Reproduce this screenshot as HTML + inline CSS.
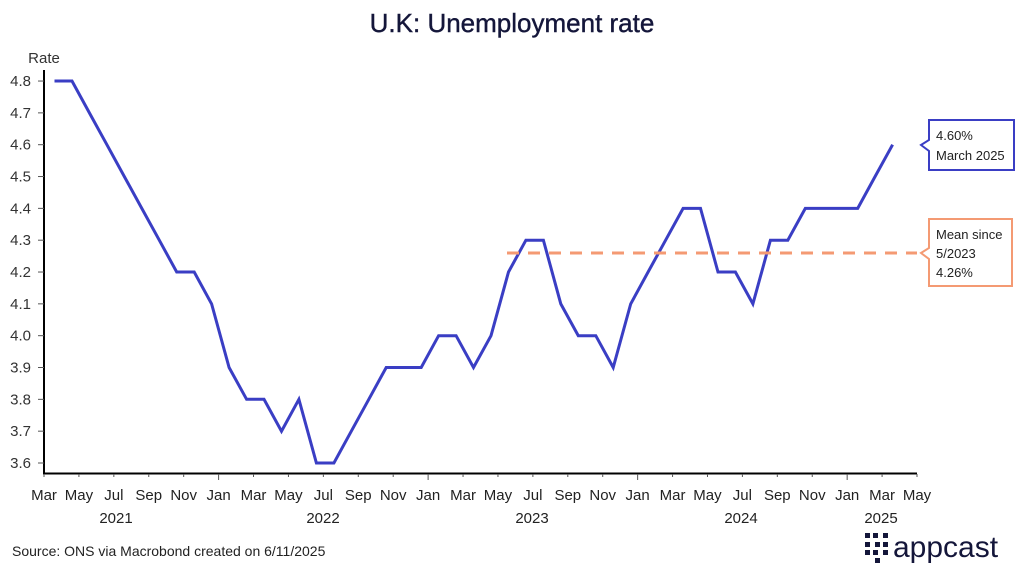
<!DOCTYPE html>
<html><head><meta charset="utf-8"><style>
html,body{margin:0;padding:0;background:#fff;}
svg{display:block;font-family:"Liberation Sans",sans-serif;}
</style></head><body>
<svg id="c" width="1024" height="574" viewBox="0 0 1024 574" xmlns="http://www.w3.org/2000/svg">
<text x="512" y="32" text-anchor="middle" font-size="26" fill="#14163a" stroke="#14163a" stroke-width="0.4">U.K: Unemployment rate</text>
<text x="44" y="63" text-anchor="middle" font-size="15" fill="#333">Rate</text>
<line x1="44" y1="70" x2="44" y2="474" stroke="#000" stroke-width="2"/>
<line x1="43" y1="473.5" x2="917" y2="473.5" stroke="#000" stroke-width="2"/>
<g id="g"></g>
<polyline points="507,253 917,253" fill="none" stroke="#f49a73" stroke-width="3" stroke-dasharray="12,9"/>
<path d="M929,120 H1014 V170 H929 V151 L921,145 L929,140 Z" fill="#fff" stroke="#3a3ec4" stroke-width="2"/>
<text x="936" y="140" font-size="13" fill="#222">4.60%</text>
<text x="936" y="160" font-size="13" fill="#222">March 2025</text>
<path d="M929,219 H1012 V286 H929 V259 L921,253 L929,248 Z" fill="#fff" stroke="#f49a73" stroke-width="2"/>
<text x="936" y="239" font-size="13" fill="#222">Mean since</text>
<text x="936" y="258" font-size="13" fill="#222">5/2023</text>
<text x="936" y="277" font-size="13" fill="#222">4.26%</text>
<text x="12" y="556" font-size="14" fill="#222">Source: ONS via Macrobond created on 6/11/2025</text>
<g fill="#14163a">
<rect x="865" y="533" width="5" height="5"/><rect x="873" y="533" width="5" height="5"/><rect x="883" y="533" width="5" height="5"/>
<rect x="865" y="542" width="5" height="5"/><rect x="875" y="542" width="5" height="5"/><rect x="883" y="542" width="5" height="5"/>
<rect x="865" y="550" width="5" height="5"/><rect x="873" y="550" width="5" height="5"/><rect x="883" y="550" width="5" height="5"/>
<rect x="875" y="558" width="5" height="5"/>
</g>
<text x="893" y="557" font-size="30" fill="#14163a">appcast</text>
</svg>
<script>
var g=document.getElementById('g'),h='';
function Y(v){return 463-(v-3.6)*318.3;}
for(var i=0;i<=12;i++){var v=3.6+i*0.1,y=Y(v);h+='<line x1="38" y1="'+y+'" x2="44" y2="'+y+'" stroke="#555"/>';
h+='<text x="31" y="'+(y+5)+'" text-anchor="end" font-size="15" fill="#333">'+v.toFixed(1)+'</text>';}
var m=["Mar","May","Jul","Sep","Nov","Jan"];
for(var k=0;k<=25;k++){var x=44+k*34.92,lab=m[k%6],jan=(lab=="Jan");
h+='<line x1="'+x+'" y1="474" x2="'+x+'" y2="'+(jan?480:477)+'" stroke="#555"/>';
h+='<text x="'+x+'" y="500" text-anchor="middle" font-size="15" fill="#222">'+lab+'</text>';}
[["2021",116],["2022",323],["2023",532],["2024",741],["2025",881]].forEach(function(a){h+='<text x="'+a[1]+'" y="523" text-anchor="middle" font-size="15" fill="#222">'+a[0]+'</text>';});
var d=[4.8,4.8,4.7,4.6,4.5,4.4,4.3,4.2,4.2,4.1,3.9,3.8,3.8,3.7,3.8,3.6,3.6,3.7,3.8,3.9,3.9,3.9,4.0,4.0,3.9,4.0,4.2,4.3,4.3,4.1,4.0,4.0,3.9,4.1,4.2,4.3,4.4,4.4,4.2,4.2,4.1,4.3,4.3,4.4,4.4,4.4,4.4,4.5,4.6];
var p=d.map(function(v,i){return (54.5+i*17.46).toFixed(1)+','+Y(v).toFixed(1);}).join(' ');
h+='<polyline points="'+p+'" fill="none" stroke="#3a3ec4" stroke-width="3" stroke-linejoin="miter"/>';
g.innerHTML=h;
</script>
</body></html>
